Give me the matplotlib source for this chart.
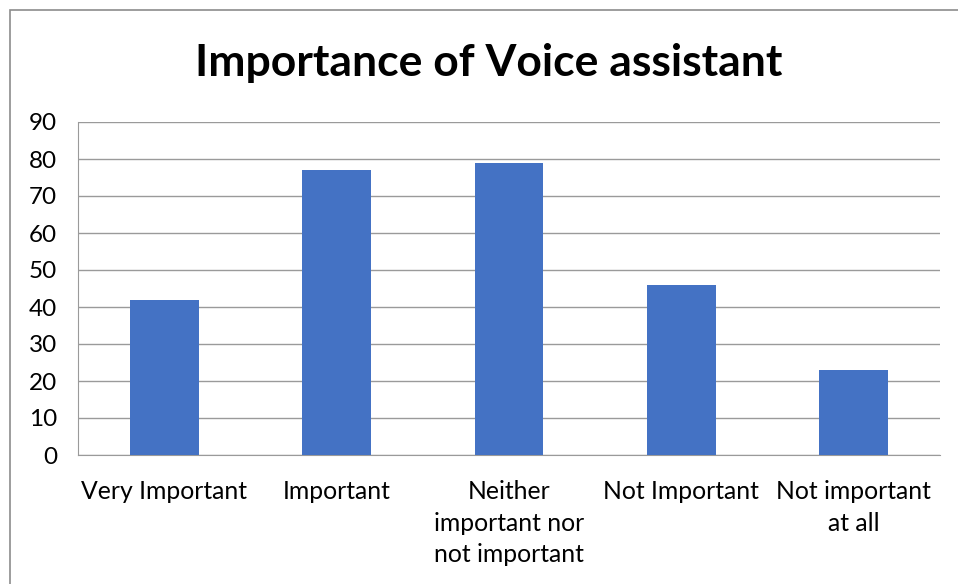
import matplotlib
matplotlib.use("Agg")
import matplotlib.pyplot as plt
from matplotlib.patches import Rectangle

categories = ["Very Important", "Important", "Neither\nimportant nor\nnot important", "Not Important", "Not important\nat all"]
values = [42, 77, 79, 46, 23]
yticks = [0, 10, 20, 30, 40, 50, 60, 70, 80, 90]

plt.rcParams['font.family'] = ['Lato', 'DejaVu Sans']

W, H = 958, 584
fig = plt.figure(figsize=(W/100, H/100), dpi=100)
ax = fig.add_axes([78/W, 1-455/H, (940-78)/W, (455-122)/H])

x = list(range(len(categories)))
ax.bar(x, values, width=0.4, color="#4472C4", zorder=3)
ax.set_xlim(-0.5, len(categories)-0.5)
ax.set_ylim(0, 90)
ax.set_yticks(yticks)
ax.set_xticks(x)
ax.set_xticklabels(categories, fontsize=17.8, color="#000000", linespacing=1.45, va="top")
ax.tick_params(axis="y", labelsize=17.5, length=0, pad=15)
ax.tick_params(axis="x", length=0, pad=18)
ax.grid(axis="y", color="#9a9a9a", linewidth=1, zorder=0)
for s in ["top", "right"]:
    ax.spines[s].set_visible(False)
ax.spines["left"].set_color("#9a9a9a")
ax.spines["bottom"].set_color("#9a9a9a")
for lbl in ax.get_yticklabels():
    lbl.set_horizontalalignment("right")

fig.text(489/W, 1-63/H, "Importance of Voice assistant", fontsize=32, fontweight="bold",
         ha="center", va="center")

fig.patches.append(Rectangle((9.5/W, -0.1), 1.2, 1-10/H+0.1, transform=fig.transFigure,
                             fill=False, edgecolor="#8c8c8c", linewidth=1.2))

fig.savefig("out.png", dpi=100)
